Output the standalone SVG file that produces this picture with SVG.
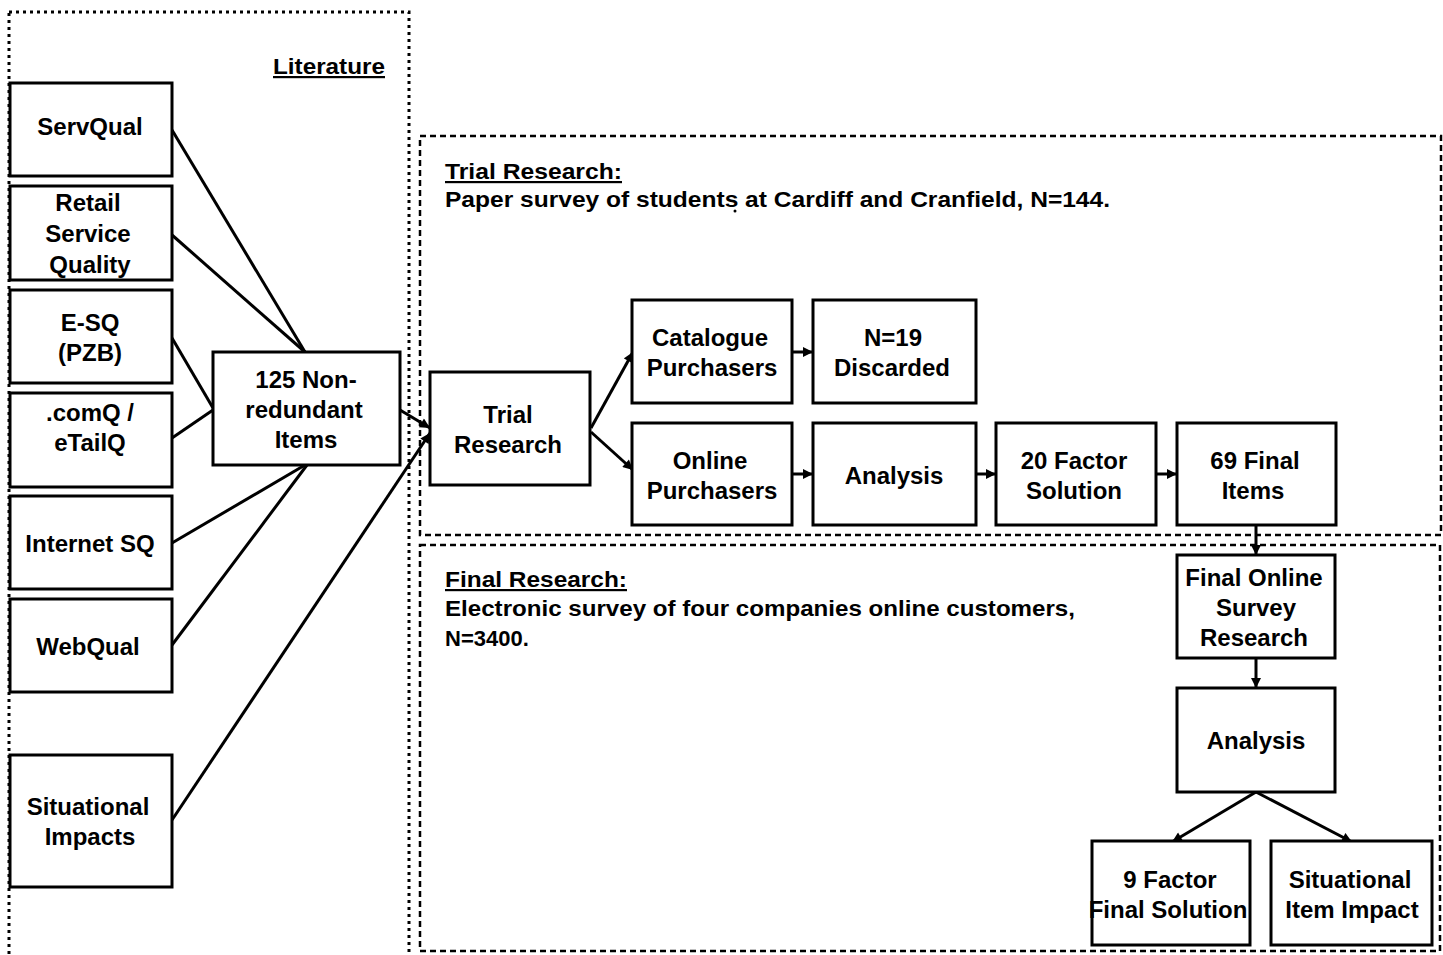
<svg xmlns="http://www.w3.org/2000/svg" width="1443" height="955" viewBox="0 0 1443 955">
<style>
.box{fill:#fff;stroke:#000;stroke-width:3}
.t{font-family:"Liberation Sans",Arial,sans-serif;font-weight:bold;font-size:24px;fill:#000;text-anchor:middle}
.h{font-family:"Liberation Sans",Arial,sans-serif;font-weight:bold;font-size:22px;fill:#000}
.u{text-decoration:underline}
.ln{stroke:#000;stroke-width:3;fill:none}
.dot{fill:none;stroke:#000;stroke-width:3;stroke-dasharray:3 4}
.dash{fill:none;stroke:#000;stroke-width:2.5;stroke-dasharray:6 4}
</style>
<defs>
<marker id="ah" viewBox="0 0 10 10" refX="10" refY="5" markerWidth="12" markerHeight="10" markerUnits="userSpaceOnUse" orient="auto">
<path d="M0,0 L10,5 L0,10 z" fill="#000"/>
</marker>
</defs>
<rect width="1443" height="955" fill="#fff"/>
<g id="containers">
<rect class="dot" x="9" y="12" width="400" height="960"/>
<rect class="dash" x="420" y="136" width="1021" height="399"/>
<rect class="dash" x="420" y="545" width="1020" height="406"/>
<circle cx="735" cy="211" r="1.5" fill="#000"/>
</g>
<g id="lit-label"><text class="h u" x="273" y="74" font-size="24" textLength="112" lengthAdjust="spacingAndGlyphs">Literature</text></g>
<g id="trial-label">
<text class="h u" x="445" y="179" textLength="177" lengthAdjust="spacingAndGlyphs">Trial Research:</text>
<text class="h" x="445" y="207" textLength="665" lengthAdjust="spacingAndGlyphs">Paper survey of students at Cardiff and Cranfield, N=144.</text>
</g>
<g id="final-label">
<text class="h u" x="445" y="587" textLength="182" lengthAdjust="spacingAndGlyphs">Final Research:</text>
<text class="h" x="445" y="616" textLength="630" lengthAdjust="spacingAndGlyphs">Electronic survey of four companies online customers,</text>
<text class="h" x="445" y="646">N=3400.</text>
</g>
<g id="connectors">
<line class="ln" x1="172" y1="130" x2="305" y2="352"/>
<line class="ln" x1="172" y1="235" x2="305" y2="352"/>
<line class="ln" x1="172" y1="338" x2="213" y2="408"/>
<line class="ln" x1="172" y1="438" x2="213" y2="410"/>
<line class="ln" x1="172" y1="543" x2="305" y2="465"/>
<line class="ln" x1="172" y1="645" x2="307" y2="465"/>
<line class="ln" x1="172" y1="820" x2="430" y2="433" marker-end="url(#ah)"/>
<line class="ln" x1="400" y1="410" x2="430" y2="428" marker-end="url(#ah)"/>
<line class="ln" x1="591" y1="428" x2="633" y2="352" marker-end="url(#ah)"/>
<line class="ln" x1="591" y1="432" x2="633" y2="470" marker-end="url(#ah)"/>
<line class="ln" x1="792" y1="352" x2="813" y2="352" marker-end="url(#ah)"/>
<line class="ln" x1="792" y1="474" x2="813" y2="474" marker-end="url(#ah)"/>
<line class="ln" x1="976" y1="474" x2="996" y2="474" marker-end="url(#ah)"/>
<line class="ln" x1="1156" y1="474" x2="1177" y2="474" marker-end="url(#ah)"/>
<line class="ln" x1="1256" y1="525" x2="1256" y2="555" marker-end="url(#ah)"/>
<line class="ln" x1="1256" y1="658" x2="1256" y2="688" marker-end="url(#ah)"/>
<line class="ln" x1="1256" y1="792" x2="1172" y2="842" marker-end="url(#ah)"/>
<line class="ln" x1="1256" y1="792" x2="1352" y2="842" marker-end="url(#ah)"/>
</g>
<g id="servqual"><rect class="box" x="10" y="83" width="162" height="93"/><text class="t" x="90" y="135">ServQual</text></g>
<g id="retail"><rect class="box" x="10" y="186" width="162" height="94"/><text class="t" x="88" y="211">Retail</text><text class="t" x="88" y="242">Service</text><text class="t" x="90" y="273">Quality</text></g>
<g id="esq"><rect class="box" x="10" y="290" width="162" height="93"/><text class="t" x="90" y="331">E-SQ</text><text class="t" x="90" y="361">(PZB)</text></g>
<g id="comq"><rect class="box" x="10" y="393" width="162" height="94"/><text class="t" x="90" y="421">.comQ /</text><text class="t" x="90" y="451">eTailQ</text></g>
<g id="internetsq"><rect class="box" x="10" y="496" width="162" height="93"/><text class="t" x="90" y="552">Internet SQ</text></g>
<g id="webqual"><rect class="box" x="10" y="599" width="162" height="93"/><text class="t" x="88" y="655">WebQual</text></g>
<g id="situational"><rect class="box" x="10" y="755" width="162" height="132"/><text class="t" x="88" y="815">Situational</text><text class="t" x="90" y="845">Impacts</text></g>
<g id="items125"><rect class="box" x="213" y="352" width="187" height="113"/><text class="t" x="306" y="388">125 Non-</text><text class="t" x="304" y="418">redundant</text><text class="t" x="306" y="448">Items</text></g>
<g id="trial"><rect class="box" x="430" y="372" width="160" height="113"/><text class="t" x="508" y="423">Trial</text><text class="t" x="508" y="453">Research</text></g>
<g id="catalogue"><rect class="box" x="632" y="300" width="160" height="103"/><text class="t" x="710" y="346">Catalogue</text><text class="t" x="712" y="376">Purchasers</text></g>
<g id="discarded"><rect class="box" x="813" y="300" width="163" height="103"/><text class="t" x="893" y="346">N=19</text><text class="t" x="892" y="376">Discarded</text></g>
<g id="online"><rect class="box" x="632" y="423" width="160" height="102"/><text class="t" x="710" y="469">Online</text><text class="t" x="712" y="499">Purchasers</text></g>
<g id="analysis1"><rect class="box" x="813" y="423" width="163" height="102"/><text class="t" x="894" y="484">Analysis</text></g>
<g id="factor20"><rect class="box" x="996" y="423" width="160" height="102"/><text class="t" x="1074" y="469">20 Factor</text><text class="t" x="1074" y="499">Solution</text></g>
<g id="final69"><rect class="box" x="1177" y="423" width="159" height="102"/><text class="t" x="1255" y="469">69 Final</text><text class="t" x="1253" y="499">Items</text></g>
<g id="finalonline"><rect class="box" x="1177" y="555" width="158" height="103"/><text class="t" x="1254" y="586">Final Online</text><text class="t" x="1256" y="616">Survey</text><text class="t" x="1254" y="646">Research</text></g>
<g id="analysis2"><rect class="box" x="1177" y="688" width="158" height="104"/><text class="t" x="1256" y="749">Analysis</text></g>
<g id="factor9"><rect class="box" x="1092" y="841" width="158" height="104"/><text class="t" x="1170" y="888">9 Factor</text><text class="t" x="1168" y="918">Final Solution</text></g>
<g id="sitimpact"><rect class="box" x="1271" y="841" width="161" height="104"/><text class="t" x="1350" y="888">Situational</text><text class="t" x="1352" y="918">Item Impact</text></g>
</svg>
